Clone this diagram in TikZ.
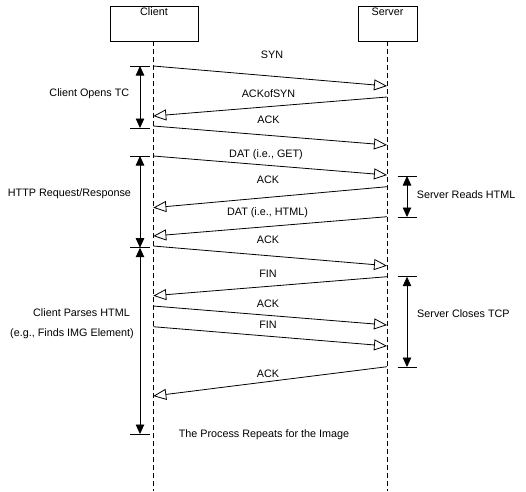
\documentclass[tikz,border=0pt]{standalone}
\usepackage{fontspec}
\setmainfont{Liberation Sans}
\usetikzlibrary{arrows.meta}

\begin{document}
\begin{tikzpicture}[x=1pt,y=-1pt,
        font=\fontsize{10.8}{13}\selectfont,
        actor/.style={draw,line width=0.8pt,minimum height=35pt,inner sep=0pt},
        lifeline/.style={line width=0.8pt,dash pattern=on 5pt off 3pt},
        msg/.style={line width=0.8pt,-{Triangle[open,length=13pt,width=11pt]}},
        span/.style={line width=0.8pt,{Triangle[length=9.5pt,width=8.5pt]}-{Triangle[length=9.5pt,width=8.5pt]}},
        tick/.style={line width=0.8pt}]
        \useasboundingbox (0,0) rectangle (526,491);

        %%% ACTORS %%%
        \node[actor,minimum width=88pt] (client) at (154,23.5) {};
        \node[actor,minimum width=59pt] (server) at (387.5,23.5) {};
        \node[anchor=north,inner sep=2pt] (clienttxt) at (client.north) {Client};
        \node[anchor=north,inner sep=2pt] (servertxt) at (server.north) {Server};
        \coordinate (cend) at (153.3,491);
        \coordinate (send) at (387,491);
        \draw[lifeline] (client.south -| cend) -- (cend);
        \draw[lifeline] (server.south -| send) -- (send);

        %%% COORDINATES %%%
        \foreach \name/\y in {c1/66,c2/116,c3/126,c4/156,c5/207.7,c6/236,c7/246,c8/295.7,c9/306,c10/326.7,c11/396}
            \coordinate (\name) at (153.3,\y);
        \foreach \name/\y in {s1/86,s2/97,s3/145,s4/175,s5/186.7,s6/216.7,s7/265.7,s8/276.7,s9/325,s10/346,s11/366.7}
            \coordinate (\name) at (387,\y);

        %%% MESSAGES %%%
        \draw[msg] (c1)--(s1);
        \draw[msg] (s2)--(c2);
        \draw[msg] (c3)--(s3);
        \draw[msg] (c4)--(s4);
        \draw[msg] (s5)--(c5);
        \draw[msg] (s6)--(c6);
        \draw[msg] (c7)--(s7);
        \draw[msg] (s8)--(c8);
        \draw[msg] (c9)--(s9);
        \draw[msg] (c10)--(s10);
        \draw[msg] (s11)--(c11);

        \node (syn) at (272,55) {SYN};
        \node (ackofsyn) at (268.5,93.3) {ACKofSYN};
        \node (ack1) at (268.5,119.3) {ACK};
        \node (datget) at (266,154.3) {DAT (i.e., GET)};
        \node (ack2) at (268,180) {ACK};
        \node (dathtml) at (267.5,212.3) {DAT (i.e., HTML)};
        \node (ack3) at (268,240) {ACK};
        \node (fin1) at (268,274) {FIN};
        \node (ack4) at (268,304) {ACK};
        \node (fin2) at (268,324.3) {FIN};
        \node (ack5) at (268,374) {ACK};
        \node (repeat) at (264,434.3) {The Process Repeats for the Image};

        %%% SPANS %%%
        \coordinate (opentop) at (140,66);
        \coordinate (openbot) at (140,128);
        \coordinate (httptop) at (140,156);
        \coordinate (httpbot) at (140,247.7);
        \coordinate (parsebot) at (140,434);
        \coordinate (readtop) at (407,176);
        \coordinate (readbot) at (407,217);
        \coordinate (closetop) at (407,276.7);
        \coordinate (closebot) at (407,367);

        \foreach \p in {opentop,openbot,httptop,httpbot,parsebot}
            \draw[tick] ([xshift=-10pt]\p) -- ([xshift=10pt]\p);
        \foreach \p in {readtop,readbot,closetop,closebot}
            \draw[tick] ([xshift=-9.5pt]\p) -- ([xshift=10pt]\p);

        \draw[span] (opentop)--(openbot);
        \draw[span] (httptop)--(httpbot);
        \draw[span] (httpbot)--(parsebot);
        \draw[span] (readtop)--(readbot);
        \draw[span] (closetop)--(closebot);

        \node[anchor=east,inner sep=0pt] (opens) at (129.5,94) {Client Opens TC};
        \node[anchor=west,inner sep=0pt] (http) at (7.7,193.3) {HTTP Request/Response};
        \node[anchor=east,inner sep=0pt] (parses) at (130,313) {Client Parses HTML};
        \node[anchor=east,inner sep=0pt] (finds) at (134,334) {(e.g., Finds IMG Element)};
        \node[anchor=west,inner sep=0pt] (reads) at (416.7,195) {Server Reads HTML};
        \node[anchor=west,inner sep=0pt] (closes) at (417,314) {Server Closes TCP};
    \end{tikzpicture}
\end{document}
